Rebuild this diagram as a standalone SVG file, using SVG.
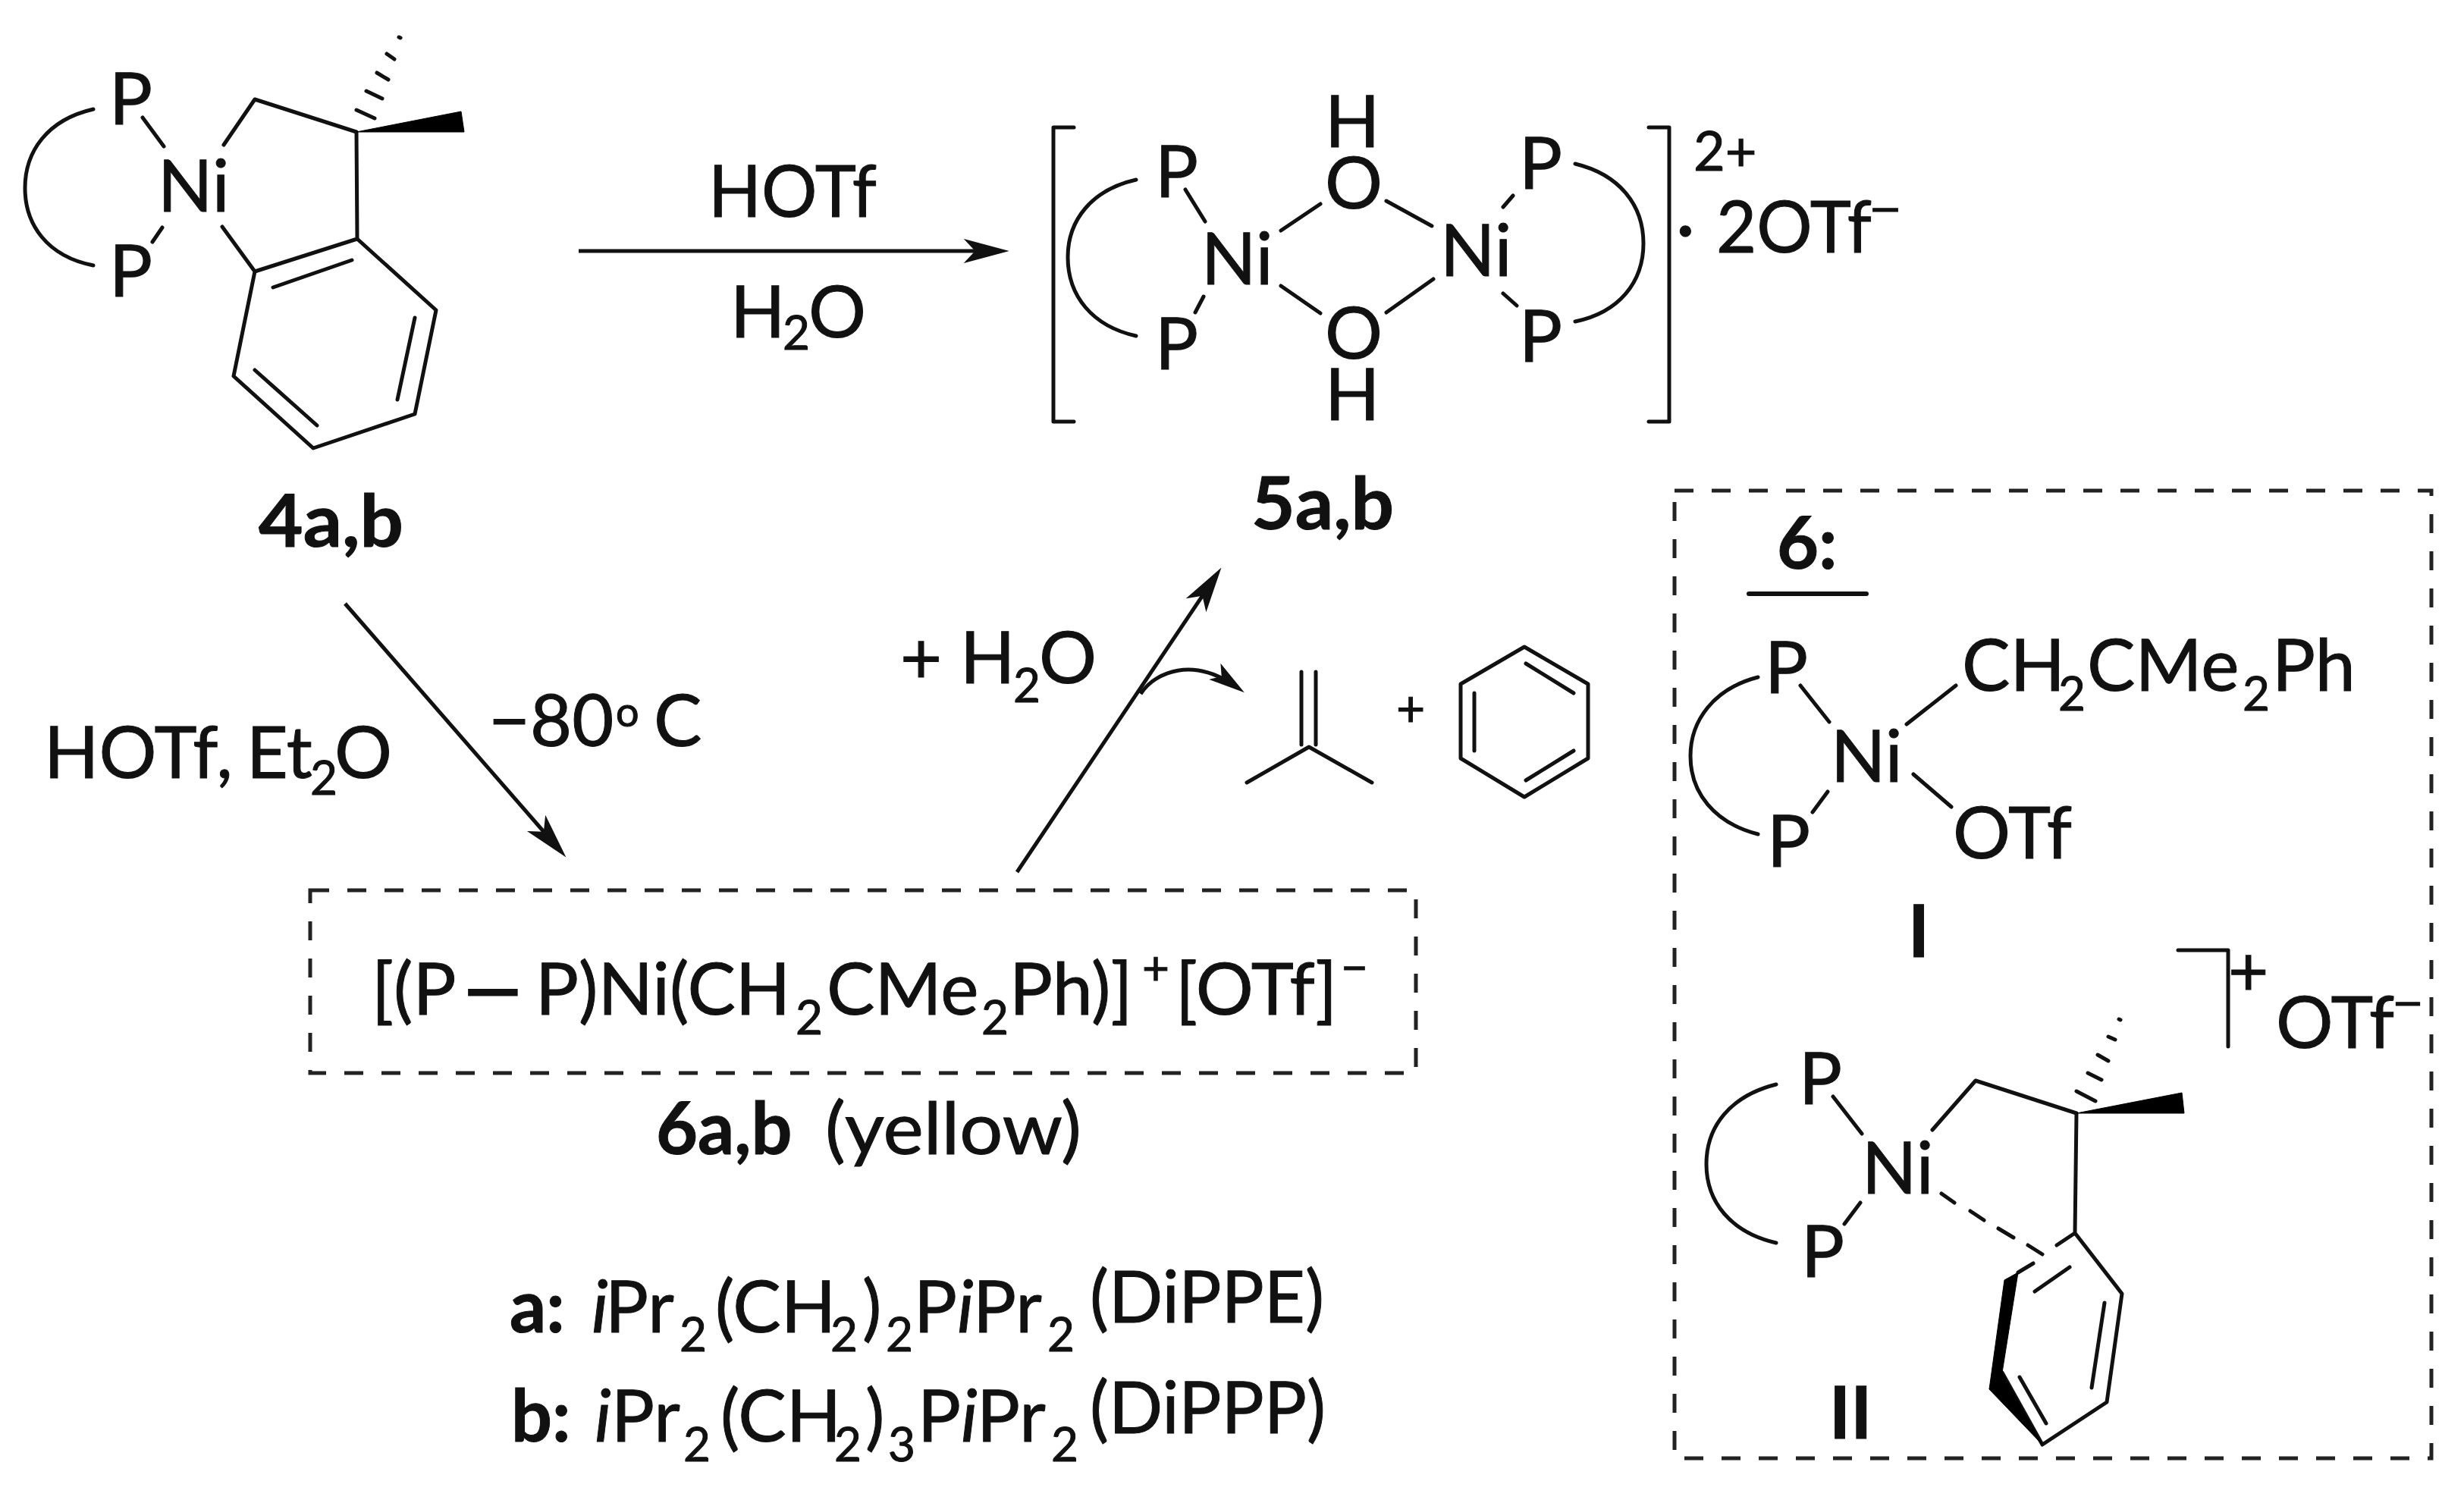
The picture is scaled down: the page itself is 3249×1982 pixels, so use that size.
<svg xmlns="http://www.w3.org/2000/svg" width="3249" height="1982" viewBox="0 0 3249 1982">
<style>
text{font-family:"Lato","Carlito","Liberation Sans",sans-serif;font-size:95px;fill:#111;stroke:#111;stroke-width:1}
.s{font-size:62px}
.bd{font-weight:700}
.i{font-style:italic}
.b{stroke:#111;stroke-width:5;fill:none;stroke-linecap:round;stroke-linejoin:round}
.th{stroke-width:6}
.w{fill:#000;stroke:#000;stroke-width:1}
.dash{stroke:#222;stroke-width:5;fill:none;stroke-dasharray:25 24}
</style>
<defs>
<marker id="head" markerUnits="userSpaceOnUse" markerWidth="60" markerHeight="34" viewBox="0 0 56 30" refX="46" refY="15" orient="auto"><path d="M0,0L56,15L0,30L14,15Z" fill="#111"/></marker>
<marker id="headS" markerUnits="userSpaceOnUse" markerWidth="48" markerHeight="28" viewBox="0 0 44 24" refX="34" refY="12" orient="auto"><path d="M0,0L44,12L0,24L10,12Z" fill="#111"/></marker>
</defs>
<rect width="3249" height="1982" fill="#fff"/>

<g id="compound-4">
<text x="144" y="164">P</text><text x="144" y="391">P</text><text x="208" y="279">Ni</text>
<path class="b" d="M123,144C62,158 33,200 33,248C33,296 62,338 123,350"/>
<path class="b" d="M188,155L216,193M214,300L201,319M295,191L336,131L470,174L471,315L336,358L308,496L413,591L547,546L575,409L471,315M293,299L336,358M464,343L360,379M547,419L524,527M336,488L418,561"/>
<polygon class="w" points="470,174 608,147 612,174"/>
<path class="b" d="M470,145L494,156M483,120L504,130M497,96L512,105M510,71L520,78M526,49L528,50"/>
<text class="bd" x="341" y="721" textLength="191" lengthAdjust="spacingAndGlyphs">4a,b</text>
</g>

<g id="compound-5">
<path class="b" d="M1416,168H1389V556H1416M2174,168H2201V556H2174"/>
<text x="1523" y="260">P</text><text x="1523" y="487">P</text>
<text x="1584" y="375">Ni</text><text x="1899" y="364">Ni</text>
<text x="1747" y="275">O</text><text x="1747" y="473">O</text>
<text x="1747" y="194">H</text><text x="1747" y="554">H</text>
<text x="2003" y="249">P</text><text x="2003" y="477">P</text>
<path class="b" d="M1498,237C1440,250 1408,290 1408,339C1408,390 1440,430 1498,443M2077,216C2135,230 2167,270 2167,321C2167,372 2135,412 2077,424"/>
<path class="b" d="M1563,250L1589,292M1587,391L1576,412M1689,304L1741,269M1828,265L1888,298M1689,377L1741,413M1828,412L1890,368M1982,273L1995,258M1982,387L2000,403"/>
<text x="2233" y="225" style="font-size:72px">2+</text>
<text x="2210" y="333">·</text>
<text x="2263" y="333" textLength="205" lengthAdjust="spacingAndGlyphs">2OTf</text>
<text class="s" x="2464" y="298" textLength="44" lengthAdjust="spacingAndGlyphs">−</text>
<text class="bd" x="1650" y="698" textLength="188" lengthAdjust="spacingAndGlyphs">5a,b</text>
</g>

<g id="byproducts">
<path class="b" d="M1716,886V982M1735,886V982M1644,1032L1726,985L1809,1032"/>
<text x="1841" y="958" style="font-size:66px">+</text>
<path class="b" d="M2010,853L2094,902V1000L2010,1051L1926,1000V902ZM2012,875L2075,914M2075,990L2012,1029M1944,914V990"/>
</g>

<g id="compound-6">
<rect class="dash" x="409" y="1174" width="1458" height="241"/>
<text y="1338"><tspan x="490">[(P</tspan><tspan class="bd" x="612">—</tspan><tspan x="706">P)Ni(CH</tspan><tspan class="s" x="1049" y="1364">2</tspan><tspan x="1090" y="1338">CMe</tspan><tspan class="s" x="1294" y="1364">2</tspan><tspan x="1331" y="1338">Ph)]</tspan><tspan class="s" x="1506" y="1298">+</tspan><tspan x="1550" y="1338">[OTf]</tspan><tspan class="s" x="1768" y="1298">−</tspan></text>
<text class="bd" x="865" y="1522">6a,b</text>
<text x="1088" y="1522" textLength="338" lengthAdjust="spacingAndGlyphs">(yellow)</text>
</g>

<g id="ligands">
<text y="1757"><tspan class="bd" x="672">a:</tspan><tspan class="i" x="780">i</tspan><tspan x="798">Pr</tspan><tspan class="s" x="896" y="1782">2</tspan><tspan x="943" y="1757">(CH</tspan><tspan class="s" x="1095" y="1782">2</tspan><tspan x="1137" y="1757">)</tspan><tspan class="s" x="1168" y="1782">2</tspan><tspan x="1205" y="1757">P</tspan><tspan class="i" x="1262">i</tspan><tspan x="1283">Pr</tspan><tspan class="s" x="1381" y="1782">2</tspan></text>
<text x="1437" y="1744" textLength="309" lengthAdjust="spacingAndGlyphs">(DiPPE)</text>
<text y="1901"><tspan class="bd" x="674">b:</tspan><tspan class="i" x="784">i</tspan><tspan x="806">Pr</tspan><tspan class="s" x="901" y="1927">2</tspan><tspan x="950" y="1901">(CH</tspan><tspan class="s" x="1100" y="1927">2</tspan><tspan x="1141" y="1901">)</tspan><tspan class="s" x="1171" y="1927">3</tspan><tspan x="1210" y="1901">P</tspan><tspan class="i" x="1267">i</tspan><tspan x="1288">Pr</tspan><tspan class="s" x="1386" y="1927">2</tspan></text>
<text x="1437" y="1890" textLength="311" lengthAdjust="spacingAndGlyphs">(DiPPP)</text>
</g>

<g id="panel-6">
<rect class="dash" x="2208" y="647" width="998" height="1276"/>
<text class="bd" x="2343" y="750">6:</text>
<path class="b th" d="M2306,783H2461"/>
</g>

<g id="species-I">
<text x="2327" y="914">P</text><text x="2330" y="1143">P</text><text x="2414" y="1031">Ni</text>
<path class="b" d="M2318,893C2260,908 2229,950 2229,997C2229,1045 2260,1085 2318,1100"/>
<path class="b" d="M2374,904L2412,952M2410,1044L2390,1071M2514,955L2579,904M2523,1021L2573,1064"/>
<text y="911"><tspan x="2587">CH</tspan><tspan class="s" x="2714" y="937">2</tspan><tspan x="2752" y="911">CMe</tspan><tspan class="s" x="2957" y="937">2</tspan><tspan x="2996" y="911">Ph</tspan></text>
<text x="2575" y="1132">OTf</text>
<text class="bd" x="2516" y="1262">I</text>
</g>

<g id="species-II">
<path class="b" d="M2872,1253H2938V1380"/>
<text x="2938" y="1313" style="font-size:92px">+</text>
<text x="3001" y="1382" textLength="156" lengthAdjust="spacingAndGlyphs">OTf</text>
<text class="s" x="3154" y="1345" textLength="42" lengthAdjust="spacingAndGlyphs">−</text>
<text x="2372" y="1456">P</text><text x="2375" y="1684">P</text><text x="2455" y="1574">Ni</text>
<path class="b" d="M2342,1430C2282,1445 2250,1485 2250,1535C2250,1585 2282,1625 2342,1639"/>
<path class="b" d="M2417,1446L2455,1495M2453,1586L2432,1614M2548,1490L2605,1425L2738,1468L2736,1626L2712,1642M2681,1666L2661,1678M2736,1626L2798,1706L2778,1849L2693,1905L2640,1810M2729,1671L2683,1703M2775,1718L2758,1830M2663,1816L2698,1877"/>
<path class="b" d="M2560,1574L2577,1586M2598,1597L2616,1609M2635,1620L2655,1632M2674,1642L2693,1654"/>
<polygon class="w" points="2738,1468 2877,1441 2880,1468"/>
<path class="b" d="M2738,1439L2763,1452M2753,1415L2771,1424M2766,1391L2780,1399M2780,1367L2789,1371M2794,1344L2796,1345"/>
<polygon class="w" points="2643,1688 2661,1678 2640,1810 2623,1832"/>
<polygon class="w" points="2693,1905 2640,1810 2623,1832"/>
<text class="bd" x="2412" y="1897">II</text>
</g>

<g id="connectors">
<path class="b" style="stroke-linecap:butt" marker-end="url(#head)" d="M763,331H1320"/>
<path class="b" style="stroke-linecap:butt" marker-end="url(#head)" d="M455,796L739.4,1122.5"/>
<path class="b" style="stroke-linecap:butt" marker-end="url(#head)" d="M1341,1150L1604.5,757.4"/>
<path class="b" style="stroke-linecap:butt" marker-end="url(#headS)" d="M1504,915C1522,888 1555,880 1580,884C1600,887 1618,897 1632,907"/>
</g>

<g id="reagents">
<text x="934" y="286" textLength="222" lengthAdjust="spacingAndGlyphs">HOTf</text>
<text y="445"><tspan x="963">H</tspan><tspan class="s" x="1032" y="461">2</tspan><tspan x="1066" y="445">O</tspan></text>
<text y="901"><tspan x="1187">+</tspan><tspan x="1266">H</tspan><tspan class="s" x="1336" y="926">2</tspan><tspan x="1370" y="901">O</tspan></text>
<text y="1026"><tspan x="58">HOTf,</tspan><tspan x="325">Et</tspan><tspan class="s" x="409" y="1048">2</tspan><tspan x="441" y="1026">O</tspan></text>
<text y="984"><tspan x="644">−80</tspan><tspan class="s" x="812" y="958" style="font-size:54px">o</tspan><tspan x="862" y="984">C</tspan></text>
</g>
</svg>
